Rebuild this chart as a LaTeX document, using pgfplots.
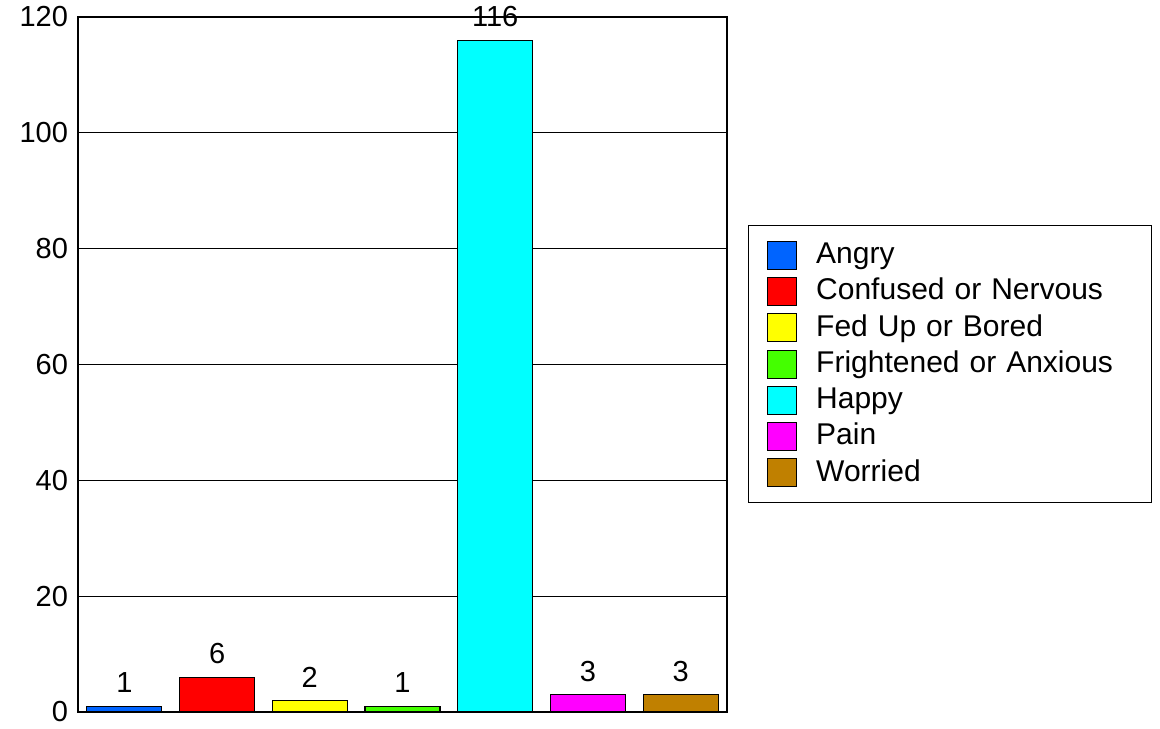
\documentclass[border=0pt]{standalone}
\usepackage{pgfplots}
\pgfplotsset{compat=1.18}
\usepackage{fontspec}
\setmainfont{Liberation Sans}
\definecolor{cAngry}{RGB}{0,100,255}
\definecolor{cConf}{RGB}{255,0,0}
\definecolor{cFed}{RGB}{255,255,0}
\definecolor{cFri}{RGB}{68,255,0}
\definecolor{cHap}{RGB}{0,255,255}
\definecolor{cPain}{RGB}{255,0,255}
\definecolor{cWor}{RGB}{192,128,0}
\begin{document}
\fontsize{14.5}{17}\selectfont
\begin{tikzpicture}
\useasboundingbox (0,0) rectangle (580pt,364pt);
\begin{axis}[
  at={(39pt,8pt)}, anchor=south west,
  scale only axis, width=324.5pt, height=347.5pt,
  ybar, bar width=37.5pt, bar shift=0pt,
  xmin=-0.5, xmax=6.5, ymin=0, ymax=120,
  xtick=\empty,
  ytick={0,20,40,60,80,100,120},
  major tick length=0pt,
  ymajorgrids, grid style={black, line width=0.5pt},
  axis line style={black, line width=1pt},
  tick label style={font=\fontsize{14.5}{17}\selectfont},
  /pgf/number format/assume math mode=true,
  nodes near coords,
  every node near coord/.append style={font=\fontsize{14.5}{17}\selectfont, yshift=1.5pt},
  every axis plot/.append style={draw=black, line width=0.6pt},
  legend image code/.code={\draw[#1, draw=black, line width=0.6pt] (0pt,-7pt) rectangle (14.5pt,7pt);},
  legend style={at={(1.0324,0.7007)}, anchor=north west, draw=black, line width=0.6pt,
    font=\fontsize{15}{18}\selectfont, legend cell align=left,
    inner xsep=9pt, inner ysep=6.6pt, row sep=1.2pt,
    /tikz/every odd column/.append style={column sep=7.7pt},
    /tikz/every even column/.append style={text width=156.5pt}},
]
\addplot[fill=cAngry] coordinates {(0,1)};
\addplot[fill=cConf] coordinates {(1,6)};
\addplot[fill=cFed] coordinates {(2,2)};
\addplot[fill=cFri] coordinates {(3,1)};
\addplot[fill=cHap] coordinates {(4,116)};
\addplot[fill=cPain] coordinates {(5,3)};
\addplot[fill=cWor] coordinates {(6,3)};
\legend{Angry, Confused or Nervous, Fed Up or Bored, Frightened or Anxious, Happy, Pain, Worried}
\end{axis}
\end{tikzpicture}
\end{document}
